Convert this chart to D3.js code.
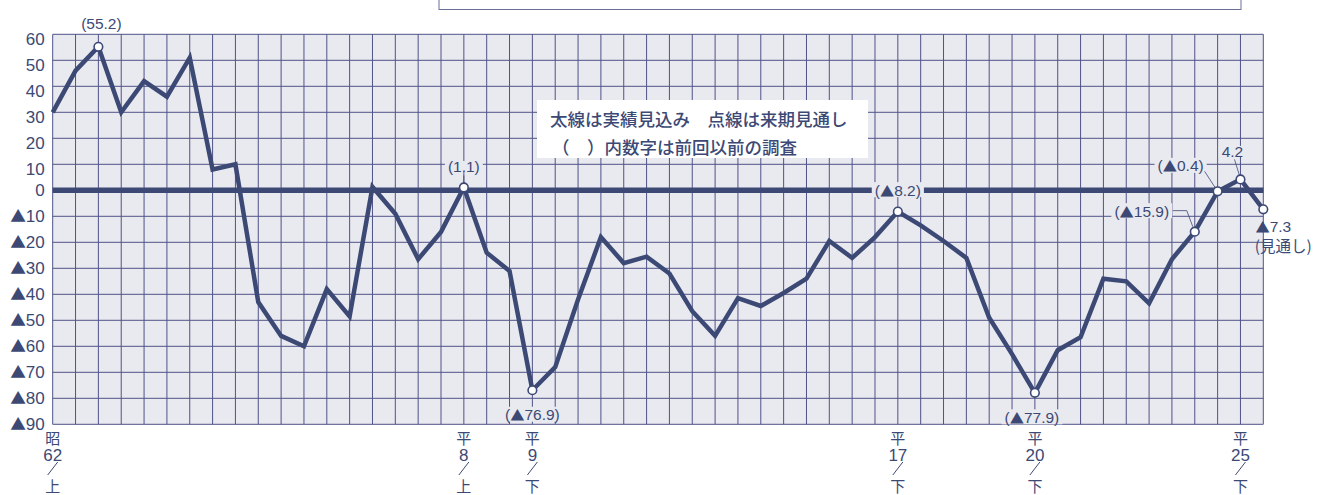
<!DOCTYPE html>
<html>
<head>
<meta charset="utf-8">
<script src="https://cdn.jsdelivr.net/npm/d3@7"></script>
<style>
  body { margin: 0; background: #fff; }
  svg { display: block; }
</style>
</head>
<body>
<script>
// half-year survey values (index 53 = next-period outlook)
const values = [
  30, 46, 55.2, 30, 42, 36, 51, 8, 10, -43,
  -56, -60, -38, -48.5, 1.3, -9, -26.5, -16, 1.1, -24,
  -31, -76.9, -68, -42, -18, -28, -25.5, -32, -46.5, -56,
  -41.5, -44.5, -39.5, -34, -19.5, -26, -18, -8.2, -13.5, -19.5,
  -26, -49, -63, -77.9, -61.5, -56.5, -34, -35, -43.5, -26.5,
  -15.9, -0.4, 4.2, -7.3
];

const yTicks = [60, 50, 40, 30, 20, 10, 0, -10, -20, -30, -40, -50, -60, -70, -80, -90];

const xTickIdx = [0, 18, 21, 37, 43, 52];
const xTickLabels = [
  ["昭", "62", "／", "上"],
  ["平", "8", "／", "上"],
  ["平", "9", "／", "下"],
  ["平", "17", "／", "下"],
  ["平", "20", "／", "下"],
  ["平", "25", "／", "下"]
];

// points marked with open circles and their labels
const markedIdx = [2, 18, 21, 37, 43, 50, 51, 52, 53];
const markedText = ["(55.2)", "(1.1)", "(▲76.9)", "(▲8.2)", "(▲77.9)", "(▲15.9)", "(▲0.4)", "4.2", "▲7.3"];

const legendLines = ["太線は実績見込み　点線は来期見通し", "（　）内数字は前回以前の調査"];

const W = 1319, H = 495;
const pLeft = 52.7, pRight = 1263.3, pTop = 34.3, pBottom = 424.3;
const ink = "#3c4975";
const gridColor = "#4f5388";
const plotBg = "#e9e9f0";
const numFont = "'Liberation Sans', Arial, sans-serif";
const jpFont = "'Noto Sans CJK JP', sans-serif";

const svg = d3.select("body").append("svg").attr("width", W).attr("height", H);

const x = d3.scaleLinear().domain([0, values.length - 1]).range([pLeft, pRight]);
const y = d3.scaleLinear().domain([-90, 60]).range([pBottom, pTop]);

// write a label, drawing the ▲ with the CJK font so it is full size
function setLabel(sel, str) {
  sel.text(null);
  str.split(/(▲)/).filter((s) => s !== "").forEach(function (s) {
    const ts = sel.append("tspan").text(s);
    if (s === "▲") ts.attr("font-family", jpFont).attr("font-size", "0.92em");
  });
}

// title box, cut off at the top of the picture
svg.append("rect")
  .attr("x", 439).attr("y", -20).attr("width", 802).attr("height", 29.5)
  .attr("fill", "#fff").attr("stroke", "#6a6f98").attr("stroke-width", 1);

// plot background
svg.append("rect")
  .attr("x", pLeft).attr("y", pTop)
  .attr("width", pRight - pLeft).attr("height", pBottom - pTop)
  .attr("fill", plotBg);

// grid
svg.append("g").selectAll("line")
  .data(d3.range(values.length))
  .enter().append("line")
  .attr("x1", (d) => x(d)).attr("x2", (d) => x(d))
  .attr("y1", pTop).attr("y2", pBottom)
  .attr("stroke", gridColor).attr("stroke-width", 1);

svg.append("g").selectAll("line")
  .data(yTicks)
  .enter().append("line")
  .attr("x1", pLeft).attr("x2", pRight)
  .attr("y1", (d) => y(d)).attr("y2", (d) => y(d))
  .attr("stroke", gridColor).attr("stroke-width", 1);

// y axis labels
const yAxis = d3.axisLeft(y)
  .tickValues(yTicks)
  .tickSize(0)
  .tickPadding(8)
  .tickFormat((d) => (d < 0 ? "▲" + Math.abs(d) : d));
svg.append("g")
  .attr("transform", "translate(" + pLeft + ",0)")
  .call(yAxis)
  .call((g) => g.select(".domain").remove())
  .selectAll("text")
  .attr("dy", (d) => (d > 0 ? "0.62em" : "0.32em"))
  .attr("font-family", numFont)
  .attr("font-size", 17)
  .attr("fill", ink)
  .each(function (d) {
    setLabel(d3.select(this), d < 0 ? "▲" + Math.abs(d) : String(d));
  });

// x axis labels, stacked vertically
const xLab = svg.append("g").selectAll("g")
  .data(xTickIdx)
  .enter().append("g")
  .attr("transform", (d) => "translate(" + x(d) + ",0)");
xLab.each(function (d, i) {
  const g = d3.select(this);
  const parts = xTickLabels[i];
  const ys = [437, 455, 469, 485];
  parts.forEach(function (p, k) {
    if (p === "／") {
      g.append("line")
        .attr("x1", 5).attr("y1", ys[k] - 7)
        .attr("x2", -5).attr("y2", ys[k] + 6)
        .attr("stroke", ink).attr("stroke-width", 1);
    } else {
      g.append("text")
        .attr("y", ys[k])
        .attr("text-anchor", "middle")
        .attr("dominant-baseline", "central")
        .attr("font-family", /\d/.test(p) ? numFont : jpFont)
        .attr("font-size", /\d/.test(p) ? 17 : 15)
        .attr("fill", ink)
        .text(p);
    }
  });
});

// legend box
const legend = svg.append("g");
legend.append("rect")
  .attr("x", 537).attr("y", 100).attr("width", 331).attr("height", 58)
  .attr("fill", "#fff");
legend.selectAll("text")
  .data(legendLines)
  .enter().append("text")
  .attr("x", (d, i) => (i === 0 ? 550 : 552))
  .attr("y", (d, i) => 118 + i * 28)
  .attr("dominant-baseline", "central")
  .attr("font-family", jpFont)
  .attr("font-size", 17.5)
  .attr("font-weight", 500)
  .attr("fill", ink)
  .text((d) => d);

// zero line
svg.append("line")
  .attr("x1", pLeft).attr("x2", pRight)
  .attr("y1", y(0)).attr("y2", y(0))
  .attr("stroke", ink).attr("stroke-width", 5.5);

// label layout: text offset from the point, optional leader path
const labelPos = {
  2: { dx: 3, dy: -24 },
  18: { dx: 0, dy: -21 },
  21: { dx: 0, dy: 24 },
  37: { dx: 0, dy: -22 },
  43: { dx: -3, dy: 24 },
  50: { dx: -53, dy: -21, leader: [[-22, -21], [-8, -21], [-2, -5]] },
  51: { dx: -37, dy: -26, leader: [[-13, -20], [-2, -3]] },
  52: { dx: -8, dy: -28, leader: [[-6, -20], [-1, -4]] },
  53: { dx: 10, dy: 17 }
};

// data line
const line = d3.line().x((d, i) => x(i)).y((d) => y(d));
svg.append("path")
  .datum(values)
  .attr("d", line)
  .attr("fill", "none")
  .attr("stroke", ink)
  .attr("stroke-width", 4.5)
  .attr("stroke-linejoin", "miter")
  .attr("stroke-miterlimit", 3);

// labels with background that hides the grid
const labels = svg.append("g");
markedIdx.forEach(function (idx, k) {
  const p = labelPos[idx];
  const cx = x(idx), cy = y(values[idx]);
  if (p.leader) {
    labels.append("path")
      .attr("d", d3.line()(p.leader.map((q) => [cx + q[0], cy + q[1]])))
      .attr("fill", "none").attr("stroke", ink).attr("stroke-width", 0.8);
  }
  const t = labels.append("text")
    .attr("x", cx + p.dx).attr("y", cy + p.dy)
    .attr("text-anchor", "middle")
    .attr("dominant-baseline", "central")
    .attr("font-family", numFont)
    .attr("font-size", 15.5)
    .attr("fill", ink);
  setLabel(t, markedText[k]);
  const bb = t.node().getBBox();
  if (idx !== 2 && idx !== 53) {
    labels.insert("rect", "text")
      .attr("x", bb.x - 3).attr("y", bb.y + 3)
      .attr("width", bb.width + 6).attr("height", bb.height - 6)
      .attr("fill", plotBg);
  }
});
// short tick under (1.1)
labels.append("line")
  .attr("x1", x(18)).attr("x2", x(18))
  .attr("y1", y(values[18]) - 12).attr("y2", y(values[18]) - 4)
  .attr("stroke", ink).attr("stroke-width", 0.8);

labels.append("text")
  .attr("x", x(53) + 20).attr("y", y(values[53]) + 36)
  .attr("text-anchor", "middle")
  .attr("dominant-baseline", "central")
  .attr("font-family", jpFont)
  .attr("font-size", 15.5)
  .attr("fill", ink)
  .text("(見通し)");

// open circle markers
svg.append("g").selectAll("circle")
  .data(markedIdx)
  .enter().append("circle")
  .attr("cx", (d) => x(d))
  .attr("cy", (d) => y(values[d]))
  .attr("r", 4.3)
  .attr("fill", "#fff")
  .attr("stroke", ink)
  .attr("stroke-width", 1.6);
</script>
</body>
</html>
